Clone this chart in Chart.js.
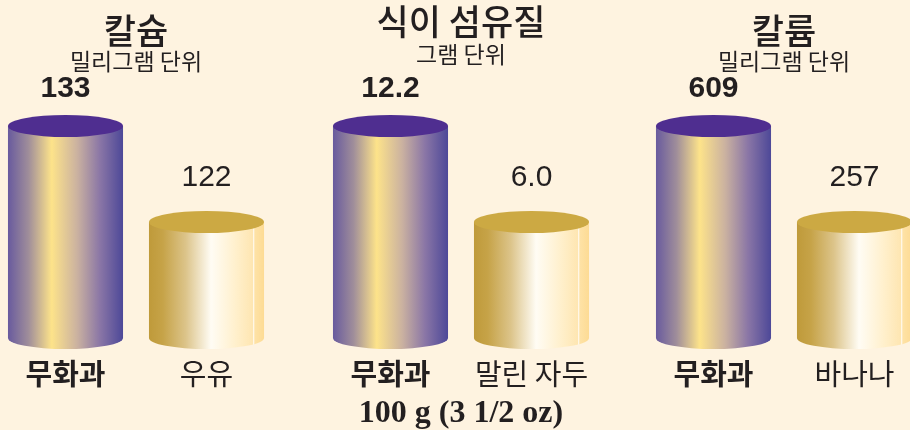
<!DOCTYPE html>
<html>
<head>
<meta charset="utf-8">
<script src="https://cdn.jsdelivr.net/npm/chart.js@4.4.1/dist/chart.umd.min.js"></script>
<style>
  html, body { margin: 0; padding: 0; width: 910px; height: 430px; overflow: hidden; background: #fef3e0; }
  .panel { position: absolute; top: 0; width: 282px; height: 430px; }
  #p0 { left: -5px; }
  #p1 { left: 320px; }
  #p2 { left: 643px; }
</style>
</head>
<body>
<div class="panel" id="p0"><canvas id="c0"></canvas></div>
<div class="panel" id="p1"><canvas id="c1"></canvas></div>
<div class="panel" id="p2"><canvas id="c2"></canvas></div>
<script>
// ---- data ----
const panelTitles = ["칼슘", "식이 섬유질", "칼륨"];
const panelUnits = ["밀리그램 단위", "그램 단위", "밀리그램 단위"];
const calciumLabels = ["무화과", "우유"];
const calciumValues = [133, 122];
const fiberLabels = ["무화과", "말린 자두"];
const fiberValues = [12.2, 6.0];
const potassiumLabels = ["무화과", "바나나"];
const potassiumValues = [609, 257];
const valueText = [["133", "122"], ["12.2", "6.0"], ["609", "257"]];
const servingNote = "100 g (3 1/2 oz)";

const panels = [
  { labels: calciumLabels, values: calciumValues, yMin: 108.7, yMax: 133 },
  { labels: fiberLabels, values: fiberValues, yMin: -1.49, yMax: 12.2 },
  { labels: potassiumLabels, values: potassiumValues, yMin: -168.3, yMax: 609 }
];

const KR = "'Noto Sans CJK KR', 'Noto Sans', sans-serif";

function cylGradient(ctx, x0, x1, kind) {
  const g = ctx.createLinearGradient(x0, 0, x1, 0);
  if (kind === 0) {
    g.addColorStop(0.00, '#685a9e');
    g.addColorStop(0.18, '#a08e9a');
    g.addColorStop(0.38, '#fde38a');
    g.addColorStop(0.60, '#cbb2a0');
    g.addColorStop(0.80, '#8a76a6');
    g.addColorStop(1.00, '#4d4898');
  } else {
    g.addColorStop(0.00, '#bf9a3a');
    g.addColorStop(0.12, '#c6a348');
    g.addColorStop(0.32, '#dcc48a');
    g.addColorStop(0.54, '#fffcf4');
    g.addColorStop(0.75, '#fff0cd');
    g.addColorStop(0.90, '#fee6b2');
    g.addColorStop(0.91, '#fffaf0');
    g.addColorStop(0.92, '#fee2a6');
    g.addColorStop(1.00, '#fddb94');
  }
  return g;
}

const cylinderPlugin = {
  id: 'cylinders',
  afterDatasetsDraw(chart, args, opts) {
    const ctx = chart.ctx;
    const meta = chart.getDatasetMeta(0);
    const ry = 11;
    meta.data.forEach((bar, i) => {
      const w = bar.width;
      const x0 = bar.x - w / 2, x1 = bar.x + w / 2;
      const top = bar.y, base = bar.base;
      ctx.save();
      const g = cylGradient(ctx, x0, x1, i);
      ctx.fillStyle = g;
      ctx.beginPath();
      ctx.moveTo(x0, top);
      ctx.lineTo(x0, base);
      ctx.ellipse(bar.x, base, w / 2, ry, 0, Math.PI, 0, true);
      ctx.lineTo(x1, top);
      ctx.closePath();
      ctx.fill();
      ctx.beginPath();
      ctx.ellipse(bar.x, top, w / 2, ry, 0, 0, Math.PI * 2);
      ctx.fillStyle = i === 0 ? '#4f2e90' : '#cca943';
      ctx.fill();
      // value labels
      ctx.fillStyle = '#231f20';
      ctx.textAlign = 'center';
      ctx.textBaseline = 'middle';
      if (i === 0) {
        ctx.font = "bold 30px 'Liberation Sans', Arial, sans-serif";
        ctx.fillText(opts.texts[i], bar.x, top - 37);
      } else {
        ctx.font = "30px 'Liberation Sans', Arial, sans-serif";
        ctx.fillText(opts.texts[i], bar.x, top - 44);
      }
      ctx.restore();
    });
  }
};

panels.forEach((p, k) => {
  const mid = k === 1;
  const titleTop = mid ? 4.5 : 13.5;
  const subTop = mid ? 3 : 1;
  const used = titleTop + 35 + subTop + 23;
  const subBottom = 126 - used;
  new Chart(document.getElementById('c' + k), {
    type: 'bar',
    data: {
      labels: p.labels,
      datasets: [{ data: p.values, base: p.yMin, backgroundColor: 'transparent', borderWidth: 0 }]
    },
    options: {
      responsive: true,
      maintainAspectRatio: false,
      animation: false,
      events: [],
      layout: { autoPadding: false, padding: { top: 0, bottom: mid ? 0 : 42, left: 0, right: 0 } },
      datasets: { bar: { categoryPercentage: 1, barPercentage: 0.816 } },
      plugins: {
        legend: { display: false },
        tooltip: { enabled: false },
        title: {
          display: true, text: panelTitles[k], color: '#231f20',
          font: { family: KR, size: 35, weight: '500', lineHeight: 1 },
          padding: { top: titleTop, bottom: 0 }
        },
        subtitle: {
          display: true, text: panelUnits[k], color: '#231f20',
          font: { family: KR, size: 23, weight: 'normal', lineHeight: 1 },
          padding: { top: subTop, bottom: subBottom }
        },
        cylinders: { texts: valueText[k] }
      },
      scales: {
        x: {
          display: true,
          grid: { display: true, drawOnChartArea: false, drawTicks: true, tickLength: 21, color: 'rgba(0,0,0,0)', tickColor: 'rgba(0,0,0,0)' },
          border: { display: false },
          ticks: {
            color: '#231f20', padding: 0,
            font: (c) => ({ family: KR, size: 29, weight: c.index === 0 ? 'bold' : 'normal', lineHeight: 1 })
          },
          title: {
            display: mid, text: servingNote, color: '#231f20',
            font: { family: "'Liberation Serif', 'Times New Roman', serif", size: 32, weight: 'bold', lineHeight: 1 },
            padding: { top: 10, bottom: 0 }
          }
        },
        y: { display: false, min: p.yMin, max: p.yMax }
      }
    },
    plugins: [cylinderPlugin]
  });
});
</script>
</body>
</html>
